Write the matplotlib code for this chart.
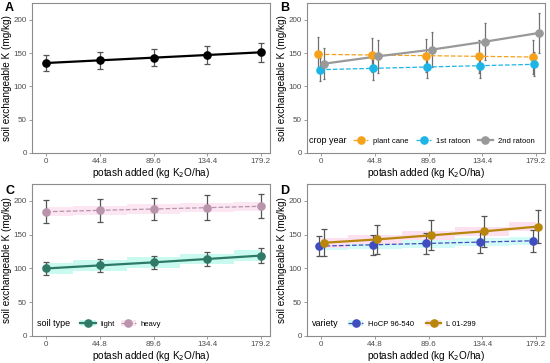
import numpy as np
import matplotlib
matplotlib.use('Agg')
import matplotlib.pyplot as plt
from matplotlib.lines import Line2D
from matplotlib.patches import Patch

plt.rcParams['font.family'] = ['Liberation Sans', 'DejaVu Sans']

# potash rates (kg K2O/ha)
rates = [0, 44.8, 89.6, 134.4, 179.2]
rate_labels = ['0', '44.8', '89.6', '134.4', '179.2']

# A: overall
a_mean = [135, 139, 143, 147, 151]
a_err = [12.5, 13, 13, 13.5, 14]

# B: crop year
b_names = ['plant cane', '1st ratoon', '2nd ratoon']
b_plant = [148, 147, 146, 145, 144]
b_plant_err = [26, 25, 25, 25, 25]
b_r1 = [125, 127, 129, 131, 133]
b_r1_err = [17, 17, 17, 18, 18]
b_r2 = [134, 145, 155, 167, 180]
b_r2_err = [23, 25, 26, 28, 30]

# C: soil type
c_light = [100, 104.5, 109, 114, 119]
c_light_err = [10, 10, 10, 11, 11]
c_heavy = [184, 186, 188, 190, 192]
c_heavy_err = [17, 17, 17, 18, 18]

# D: variety
d_hocp = [133, 135, 137, 139, 141]
d_hocp_err = [15, 15, 15, 16, 16]
d_l01 = [138, 143, 149, 155, 162]
d_l01_err = [20, 21, 22, 23, 24]

W, H = 550, 363
fig = plt.figure(figsize=(W / 100, H / 100), dpi=100)


def make_ax(l, t, r, b):
    ax = fig.add_axes([l / W, 1 - b / H, (r - l) / W, (b - t) / H])
    ax.set_xlim(-12, 187)
    ax.set_ylim(0, 225)
    ax.set_xticks(rates)
    ax.set_xticklabels(rate_labels)
    ax.set_yticks([0, 50, 100, 150, 200])
    for s in ax.spines.values():
        s.set_color('#8c8c8c')
        s.set_linewidth(0.8)
    ax.tick_params(colors='#8c8c8c', labelcolor='#4d4d4d', labelsize=5.8,
                   length=2.5, width=0.6, pad=1.2)
    ax.set_ylabel('soil exchangeable K (mg/kg)', fontsize=7.2, labelpad=1)
    ax.set_xlabel('potash added (kg K$_2$O/ha)', fontsize=7.2, labelpad=0.5)
    return ax


def series(ax, x, y, e, col, ls='-', lw=1.4, ecol='#555555', cap=2.5, ms=5.2):
    ax.errorbar(x, y, yerr=e, fmt='none', ecolor=ecol, elinewidth=0.9,
                capsize=cap, capthick=0.9, zorder=3)
    ax.plot(x, y, color=col, ls=ls, lw=lw, zorder=4)
    ax.plot(x, y, 'o', color=col, ms=ms, zorder=5)


def legend_row(ax, title, handles, labels, tx, lx, cs=1.2):
    ax.text(tx, 0.08, title, transform=ax.transAxes, fontsize=6.5,
            va='center', ha='left')
    ax.legend(handles, labels, loc='center left', bbox_to_anchor=(lx, 0.08),
              ncol=len(handles), frameon=False, fontsize=5.5, handlelength=2,
              handletextpad=0.6, columnspacing=cs, borderaxespad=0)


# ---- A
axA = make_ax(32, 3, 270, 153)
series(axA, rates, a_mean, a_err, 'black', lw=1.6)
fig.text(5 / W, 1 - 8 / H, 'A', fontsize=9, fontweight='bold', va='center')

# ---- B
axB = make_ax(307, 3, 545, 153)
x = np.array(rates)
bcols = ['#F5A11C', '#1DB5E6', '#999999']
series(axB, x - 2.5, b_plant, b_plant_err, bcols[0], ls='--', lw=0.9,
       ecol='#707070', cap=1)
series(axB, x - 1.5, b_r1, b_r1_err, bcols[1], ls='--', lw=0.9,
       ecol='#707070', cap=1)
series(axB, x + 2.5, b_r2, b_r2_err, bcols[2], lw=1.6,
       ecol='#707070', cap=1)
hB = [Line2D([], [], color=bcols[0], ls='--', lw=0.9, marker='o', ms=5.2),
      Line2D([], [], color=bcols[1], ls='--', lw=0.9, marker='o', ms=5.2),
      Line2D([], [], color=bcols[2], lw=1.6, marker='o', ms=5.2)]
legend_row(axB, 'crop year', hB, b_names, 0.01, 0.18, cs=1.0)
fig.text(280 / W, 1 - 8 / H, 'B', fontsize=9, fontweight='bold', va='center')

# ---- C
axC = make_ax(32, 184, 270, 336)
ccols = ['#2F7A66', '#B994AC']
axC.fill_between(rates, np.array(c_light) - 8, np.array(c_light) + 8,
                 step='mid', color='#C8FAF0', lw=0, zorder=1)
axC.fill_between(rates, np.array(c_heavy) - 7, np.array(c_heavy) + 7,
                 step='mid', color='#FBE6F2', lw=0, zorder=1)
series(axC, rates, c_light, c_light_err, ccols[0], lw=1.6)
series(axC, rates, c_heavy, c_heavy_err, ccols[1], ls='--', lw=0.9)
hC = [(Patch(color='#C8FAF0', lw=0),
       Line2D([], [], color=ccols[0], lw=1.6, marker='o', ms=5.2)),
      (Patch(color='#FBE6F2', lw=0),
       Line2D([], [], color=ccols[1], ls='--', lw=0.9, marker='o', ms=5.2))]
legend_row(axC, 'soil type', hC, ['light', 'heavy'], 0.02, 0.19, cs=0.8)
fig.text(5 / W, 1 - 191 / H, 'C', fontsize=9, fontweight='bold', va='center')

# ---- D
axD = make_ax(307, 184, 545, 336)
dcols = ['#3F4DBF', '#B8860B']
axD.fill_between(rates, np.array(d_hocp) - 6, np.array(d_hocp) + 6,
                 step='mid', color='#D2FAF6', lw=0, zorder=1)
axD.fill_between(rates, np.array(d_l01) - 7, np.array(d_l01) + 7,
                 step='mid', color='#FCE0F0', lw=0, zorder=1)
series(axD, x - 2, d_hocp, d_hocp_err, dcols[0], ls='--', lw=0.9)
series(axD, x + 2, d_l01, d_l01_err, dcols[1], lw=1.6)
hD = [(Patch(color='#D2FAF6', lw=0),
       Line2D([], [], color=dcols[0], ls='--', lw=0.9, marker='o', ms=5.2)),
      (Patch(color='#FCE0F0', lw=0),
       Line2D([], [], color=dcols[1], lw=1.6, marker='o', ms=5.2))]
legend_row(axD, 'variety', hD, ['HoCP 96-540', 'L 01-299'], 0.02, 0.16, cs=1.6)
fig.text(280 / W, 1 - 191 / H, 'D', fontsize=9, fontweight='bold', va='center')

fig.savefig('out.png', dpi=100)
